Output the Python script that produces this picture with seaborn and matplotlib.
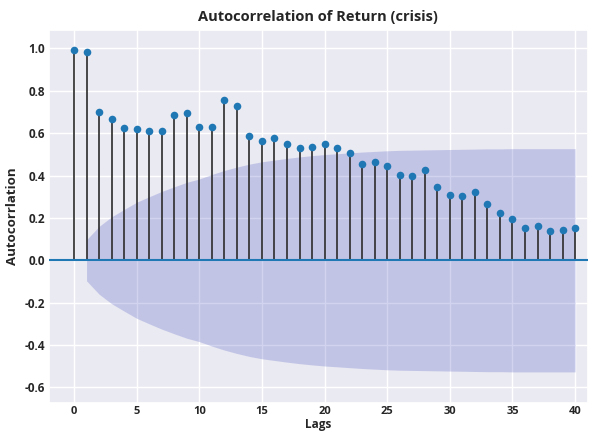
import numpy as np
import matplotlib
matplotlib.use("Agg")
import matplotlib.pyplot as plt
import seaborn as sns

# ACF values, lags 0..40
lags = list(range(0, 41))
acf_vals = [0.995, 0.982, 0.699, 0.666, 0.625, 0.622, 0.610, 0.608, 0.685, 0.697,
            0.631, 0.631, 0.757, 0.727, 0.586, 0.561, 0.577, 0.549, 0.530, 0.536,
            0.550, 0.528, 0.506, 0.456, 0.464, 0.445, 0.401, 0.400, 0.428, 0.345,
            0.307, 0.304, 0.321, 0.265, 0.221, 0.196, 0.154, 0.163, 0.136, 0.142,
            0.154]

# half-width of the confidence band, lags 1..40
band_lags = list(range(1, 41))
band_vals = [0.097, 0.160, 0.205, 0.240, 0.274, 0.300, 0.325, 0.347, 0.368, 0.384,
             0.405, 0.424, 0.440, 0.454, 0.465, 0.473, 0.481, 0.488, 0.494, 0.499,
             0.503, 0.507, 0.511, 0.514, 0.517, 0.519, 0.520, 0.521, 0.522, 0.523,
             0.524, 0.525, 0.526, 0.526, 0.527, 0.527, 0.527, 0.527, 0.527, 0.527]

sns.set_theme(style="darkgrid")
plt.rcParams["font.family"] = ["Open Sans", "DejaVu Sans"]

fig, ax = plt.subplots(figsize=(5.9, 4.32), dpi=100)
fig.subplots_adjust(left=0.083, right=0.996, top=0.930, bottom=0.068)

# confidence band
ax.fill_between(band_lags, [-v for v in band_vals], band_vals,
                color="#686FCA", alpha=0.3, linewidth=0, zorder=1)

# stems + markers
ax.vlines(lags, 0, acf_vals, color="#2b2b2b", linewidth=1.2, zorder=2)
ax.axhline(0, color="#1f77b4", linewidth=1.5, zorder=3)
sns.scatterplot(x=lags, y=acf_vals, ax=ax, color="#1f77b4", s=30,
                edgecolor="#1f77b4", linewidth=0, zorder=4)

ax.set_xlim(-2, 41)
ax.set_ylim(-0.672, 1.086)
ax.set_xticks(range(0, 41, 5))
ax.set_yticks(np.arange(-0.6, 1.01, 0.2))
ax.set_yticklabels([f"{t:.1f}" for t in np.arange(-0.6, 1.01, 0.2)])
ax.tick_params(axis="y", labelsize=8.5, length=0, pad=3)
ax.tick_params(axis="x", labelsize=8, length=0, pad=2.5)
for lab in ax.get_xticklabels() + ax.get_yticklabels():
    lab.set_fontweight("bold")

ax.set_title("Autocorrelation of Return (crisis)", fontsize=10.5, fontweight="bold", pad=7)
ax.set_xlabel("Lags", fontsize=8.5, fontweight="bold")
ax.set_ylabel("Autocorrlation", fontsize=9.5, fontweight="bold")
ax.xaxis.set_label_coords(0.5, -0.042)
ax.yaxis.set_label_coords(-0.056, 0.5)

fig.savefig("out.png", dpi=100)
